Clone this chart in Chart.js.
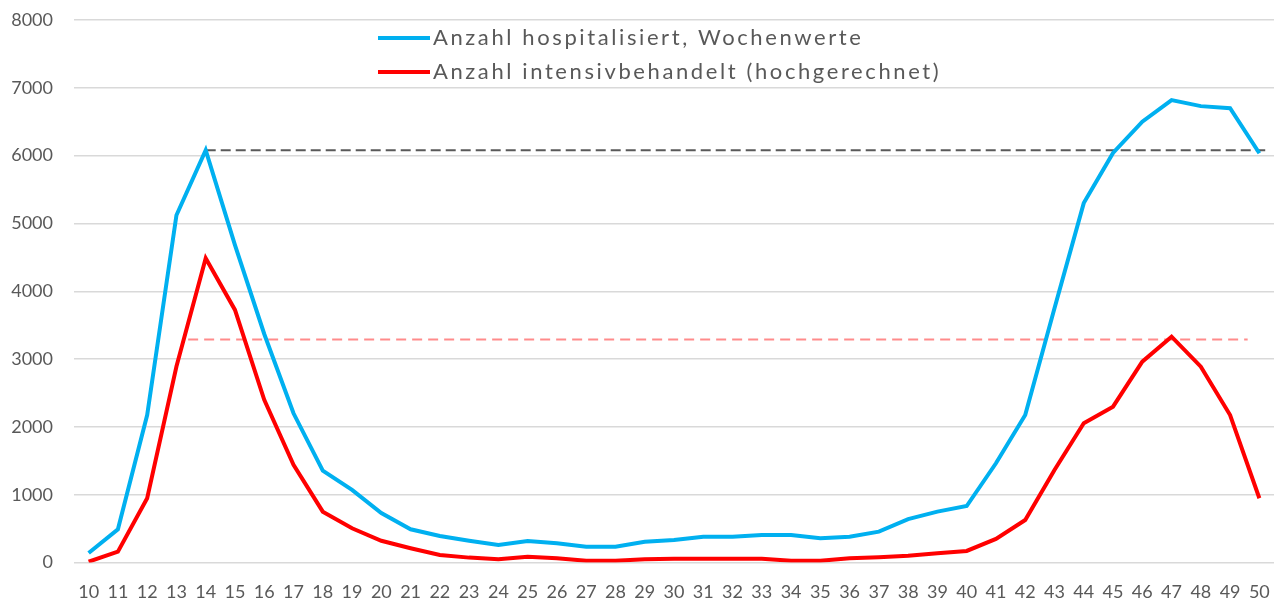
<!DOCTYPE html>
<html>
<head>
<meta charset="utf-8">
<script src="https://cdn.jsdelivr.net/npm/chart.js@4/dist/chart.umd.min.js"></script>
<style>
  html, body { margin: 0; padding: 0; background: #fff; }
  #wrap { width: 1283px; height: 603px; }
</style>
</head>
<body>
<div id="wrap"><canvas id="chart" width="1283" height="603"></canvas></div>
<script>
// Kalenderwochen
const weeks = [10, 11, 12, 13, 14, 15, 16, 17, 18, 19, 20, 21, 22, 23, 24, 25, 26, 27, 28, 29,
  30, 31, 32, 33, 34, 35, 36, 37, 38, 39, 40, 41, 42, 43, 44, 45, 46, 47, 48, 49, 50];

const hospitalisiert = [140, 490, 2175, 5120, 6080, 4680, 3370, 2200, 1355, 1070, 730, 490, 390, 320, 258, 317, 285, 233, 233, 307,
  332, 380, 380, 405, 405, 357, 380, 455, 640, 750, 833, 1463, 2175, 3750, 5300, 6040, 6500, 6820, 6730, 6700, 6035];

const intensiv = [12, 160, 947, 2890, 4487, 3725, 2400, 1440, 750, 505, 320, 210, 110, 72, 47, 86, 62, 27, 27, 47,
  55, 55, 55, 55, 27, 27, 62, 77, 100, 135, 170, 347, 627, 1364, 2053, 2298, 2962, 3330, 2888, 2175, 947];

// Referenzlinien (Spitzenwerte Frühjahr)
const refHospX = [14, 50.2];
const refHospY = [6080, 6080];
const refIntX = [13.4, 49.6];
const refIntY = [3290, 3290];

const yTicks = [0, 1000, 2000, 3000, 4000, 5000, 6000, 7000, 8000];

const labelHosp = 'Anzahl hospitalisiert, Wochenwerte';
const labelInt = 'Anzahl intensivbehandelt (hochgerechnet)';

const toPoints = (xs, ys) => xs.map((x, i) => ({ x, y: ys[i] }));

const textGrey = '#595959';

// legend drawn inside the plot area, like the original
const innerLegend = {
  id: 'innerLegend',
  afterDraw(chart) {
    const ctx = chart.ctx;
    const items = chart.data.datasets.filter(d => d.inLegend);
    ctx.save();
    ctx.font = '22px Lato';
    ctx.letterSpacing = '2.6px';
    ctx.textBaseline = 'middle';
    ctx.fillStyle = textGrey;
    items.forEach((d, i) => {
      const y = 38 + i * 34;
      ctx.strokeStyle = d.borderColor;
      ctx.lineWidth = 4;
      ctx.beginPath();
      ctx.moveTo(378, y);
      ctx.lineTo(430, y);
      ctx.stroke();
      ctx.fillText(d.label, 433, y);
    });
    ctx.restore();
  }
};

new Chart(document.getElementById('chart'), {
  type: 'line',
  data: {
    datasets: [
      {
        label: labelHosp,
        inLegend: true,
        data: toPoints(weeks, hospitalisiert),
        borderColor: '#00b0f0',
        borderWidth: 4,
        pointRadius: 0,
        tension: 0,
      },
      {
        label: labelInt,
        inLegend: true,
        data: toPoints(weeks, intensiv),
        borderColor: '#ff0000',
        borderWidth: 4,
        pointRadius: 0,
        tension: 0,
      },
      {
        label: 'ref hosp',
        data: toPoints(refHospX, refHospY),
        borderColor: '#595959',
        borderWidth: 2,
        borderDash: [10, 5],
        pointRadius: 0,
      },
      {
        label: 'ref int',
        data: toPoints(refIntX, refIntY),
        borderColor: '#ff8b8b',
        borderWidth: 2,
        borderDash: [10, 6],
        pointRadius: 0,
      },
    ]
  },
  options: {
    responsive: false,
    animation: false,
    layout: { padding: { top: 20, right: 9, left: 0, bottom: 0 } },
    scales: {
      x: {
        type: 'linear',
        min: 9.5,
        max: 50.5,
        afterBuildTicks: axis => { axis.ticks = weeks.map(w => ({ value: w })); },
        afterFit: axis => { axis.height = 40.5; axis.paddingLeft = 0; axis.paddingRight = 0; },
        grid: { display: false, drawTicks: false },
        border: { display: false },
        ticks: {
          autoSkip: false,
          maxRotation: 0,
          padding: 19,
          color: textGrey,
          font: { family: 'Lato', size: 18 },
        },
      },
      y: {
        min: 0,
        max: 8000,
        afterBuildTicks: axis => { axis.ticks = yTicks.map(v => ({ value: v })); },
        afterFit: axis => { axis.width = 74; axis.paddingTop = 0; axis.paddingBottom = 0; },
        grid: { color: '#d9d9d9', lineWidth: 1.5, drawTicks: false },
        border: { display: false },
        ticks: {
          padding: 21,
          color: textGrey,
          font: { family: 'Lato', size: 18 },
          callback: v => String(v),
        },
      },
    },
    plugins: {
      legend: { display: false },
      tooltip: { enabled: false },
    }
  },
  plugins: [innerLegend]
});
</script>
</body>
</html>
